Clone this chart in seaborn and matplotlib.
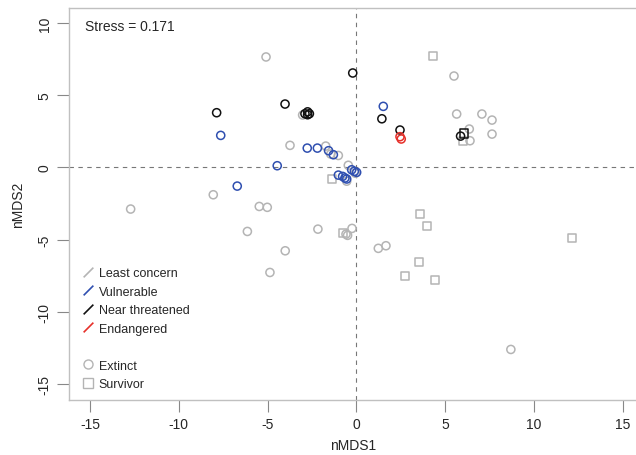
import numpy as np
import pandas as pd
import matplotlib
matplotlib.use("Agg")
import matplotlib.pyplot as plt
from matplotlib.lines import Line2D
import seaborn as sns

# ---- data ----
lc_ext_x = [-5.09, -3.03, -3.74, -1.73, -1.45, -1.02, -0.46, -0.55, -0.06, -8.06, -12.71,
            -5.47, -5.02, -6.14, -2.17, -4.01, -4.87, -0.59, -0.50, -0.25, 1.23, 1.66, 8.69,
            5.49, 5.64, 7.06, 7.63, 6.35, 7.63, 6.39]
lc_ext_y = [7.65, 3.63, 1.53, 1.48, 0.93, 0.83, 0.15, -0.95, -0.40, -1.89, -2.88,
            -2.70, -2.76, -4.43, -4.27, -5.77, -7.27, -4.62, -4.70, -4.22, -5.60, -5.42, -12.60,
            6.33, 3.70, 3.70, 3.28, 2.66, 2.31, 1.85]
lc_sur_x = [4.29, -1.36, -0.78, 3.57, 3.97, 3.54, 2.75, 4.44, 12.14, 6.02]
lc_sur_y = [7.69, -0.80, -4.55, -3.25, -4.04, -6.57, -7.52, -7.78, -4.89, 1.85]
vu_ext_x = [-7.64, -2.77, -2.20, -1.57, -1.30, -4.46, -6.71, -1.02, -0.78, -0.65, -0.55,
            -0.27, -0.12, 0.01, 1.51]
vu_ext_y = [2.22, 1.34, 1.34, 1.16, 0.88, 0.12, -1.29, -0.53, -0.62, -0.73, -0.80,
            -0.16, -0.27, -0.34, 4.23]
nt_ext_x = [-0.21, -4.02, -7.87, -2.90, -2.75, -2.65, -2.75, 1.43, 2.45, 5.86]
nt_ext_y = [6.54, 4.39, 3.79, 3.72, 3.85, 3.72, 3.65, 3.37, 2.59, 2.17]
nt_sur_x = [6.05]
nt_sur_y = [2.35]
en_ext_x = [2.45, 2.52]
en_ext_y = [2.13, 1.97]

status_names = ["Least concern", "Vulnerable", "Near threatened", "Endangered"]
fate_names = ["Extinct", "Survivor"]
stress_label = "Stress = 0.171"

groups = [
    ("Least concern", "Extinct", lc_ext_x, lc_ext_y),
    ("Least concern", "Survivor", lc_sur_x, lc_sur_y),
    ("Vulnerable", "Extinct", vu_ext_x, vu_ext_y),
    ("Near threatened", "Extinct", nt_ext_x, nt_ext_y),
    ("Near threatened", "Survivor", nt_sur_x, nt_sur_y),
    ("Endangered", "Extinct", en_ext_x, en_ext_y),
]
df = pd.concat([pd.DataFrame({"nMDS1": gx, "nMDS2": gy, "status": s, "fate": f})
                for s, f, gx, gy in groups], ignore_index=True)

palette = {"Least concern": "#b4b4b4", "Vulnerable": "#2f4fb0",
           "Near threatened": "#111111", "Endangered": "#e6302a"}
markers = {"Extinct": "o", "Survivor": "s"}

sns.set_style("white")
plt.rcParams["font.family"] = ["Liberation Sans", "DejaVu Sans"]
plt.rcParams["axes.unicode_minus"] = False

fig = plt.figure(figsize=(6.36, 4.56), dpi=100)
ax = fig.add_axes([69 / 636, 1 - 401 / 456, (637 - 69) / 636, (401 - 9) / 456])

ax.axhline(0, color="#777777", lw=0.8, ls=(0, (4, 4)), zorder=0)
ax.axvline(0, color="#777777", lw=0.8, ls=(0, (4, 4)), zorder=0)

for s in status_names:
    for f in fate_names:
        sub = df[(df.status == s) & (df.fate == f)]
        if len(sub) == 0:
            continue
        sns.scatterplot(data=sub, x="nMDS1", y="nMDS2", ax=ax, marker=markers[f],
                        color=palette[s], facecolor="none", edgecolor=palette[s],
                        linewidth=1.1, s=34, legend=False, zorder=3)

ax.set_xlim(-16.18, 15.79)
ax.set_ylim(-16.1, 11.04)
ax.set_xticks([-15, -10, -5, 0, 5, 10, 15])
ax.set_yticks([-15, -10, -5, 0, 5, 10])
ax.set_xlabel("nMDS1", fontsize=10, labelpad=5)
ax.set_ylabel("nMDS2", fontsize=10, labelpad=9)
ax.tick_params(axis="both", direction="out", length=8.6, width=0.8, color="#888888",
               labelsize=10, bottom=True, left=True)
ax.tick_params(axis="x", pad=4)
ax.tick_params(axis="y", pad=4)
for lab in ax.get_yticklabels():
    lab.set_rotation(90)
    lab.set_va("center")
for sp in ax.spines.values():
    sp.set_color("#c0c0c0")
    sp.set_linewidth(1.0)

ax.text(0.029, 0.953, stress_label, transform=ax.transAxes, fontsize=10,
        ha="left", va="center")

slash = [(-1, -1), (1, 1)]
handles = [Line2D([], [], ls="none", marker=slash, markersize=7, markeredgewidth=1.2,
                  color=palette[s]) for s in status_names]
handles.append(Line2D([], [], ls="none"))
handles += [Line2D([], [], ls="none", marker=markers[f], markersize=6.5,
                   markerfacecolor="none", markeredgecolor=palette["Least concern"],
                   markeredgewidth=1.0) for f in fate_names]
labels = status_names + [" "] + fate_names
leg = ax.legend(handles, labels, loc="upper left", frameon=False, fontsize=9,
                bbox_to_anchor=(83 / 636, 1 - 268 / 456), bbox_transform=fig.transFigure,
                borderpad=0, borderaxespad=0, handlelength=0.8, handletextpad=0.45,
                labelspacing=0.52)

fig.savefig("out.png", dpi=100)
